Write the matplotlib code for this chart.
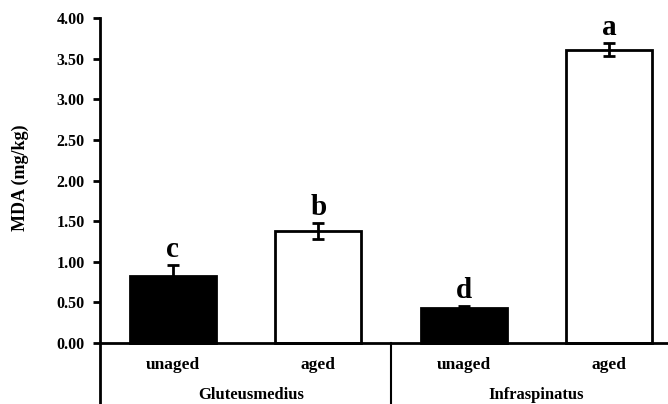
import matplotlib
matplotlib.use("Agg")
import matplotlib.pyplot as plt
import matplotlib.transforms as mtransforms

groups = ["Gluteusmedius", "Infraspinatus"]
conditions = ["unaged", "aged", "unaged", "aged"]
values = [0.82, 1.38, 0.43, 3.61]
errors = [0.14, 0.10, 0.02, 0.08]
letters = ["c", "b", "d", "a"]
colors = ["black", "white", "black", "white"]
yticks = [0.0, 0.5, 1.0, 1.5, 2.0, 2.5, 3.0, 3.5, 4.0]

plt.rcParams['font.family'] = ['Liberation Serif', 'DejaVu Serif']
plt.rcParams['font.weight'] = 'bold'

fig = plt.figure(figsize=(6.68, 4.04), dpi=100)
ax = fig.add_axes([100/668, 0.0, 568/668, 386/404])

x = [0.5, 1.5, 2.5, 3.5]
ax.bar(x, values, width=0.59, color=colors, edgecolor='black', linewidth=2, zorder=2)
ax.errorbar(x, values, yerr=errors, fmt='none', ecolor='black', elinewidth=2,
            capsize=4, capthick=2, zorder=3)

for xi, v, e, l in zip(x, values, errors, letters):
    ax.text(xi, v + e + 0.1, l, ha='center', va='baseline', fontsize=21, fontweight='bold')

ax.set_xlim(0, 568/145.5)
ax.set_ylim(-0.75, 4.0)
ax.set_yticks(yticks)
ax.set_yticklabels([f"{t:.2f}" for t in yticks], fontsize=11.5, fontweight='bold')
ax.tick_params(axis='y', direction='out', length=5, width=2, pad=6)
ax.tick_params(axis='x', bottom=False, labelbottom=False)
for s in ['top', 'right', 'bottom']:
    ax.spines[s].set_visible(False)
ax.spines['left'].set_linewidth(2)

ax.axhline(0, color='black', linewidth=2, zorder=4)
ax.plot([2, 2], [-0.75, 0], color='black', linewidth=1.5, clip_on=False)

for xi, c in zip(x, conditions):
    ax.text(xi, -0.27, c, ha='center', va='center', fontsize=12.5, fontweight='bold')
for gx, g in zip([1.04, 3.0], groups):
    ax.text(gx, -0.645, g, ha='center', va='center', fontsize=12, fontweight='bold')

trans = mtransforms.blended_transform_factory(ax.transAxes, ax.transData)
ax.text(-0.141, 2.04, "MDA (mg/kg)", transform=trans, rotation=90,
        ha='center', va='center', fontsize=13, fontweight='bold')

fig.savefig("out.png", dpi=100)
